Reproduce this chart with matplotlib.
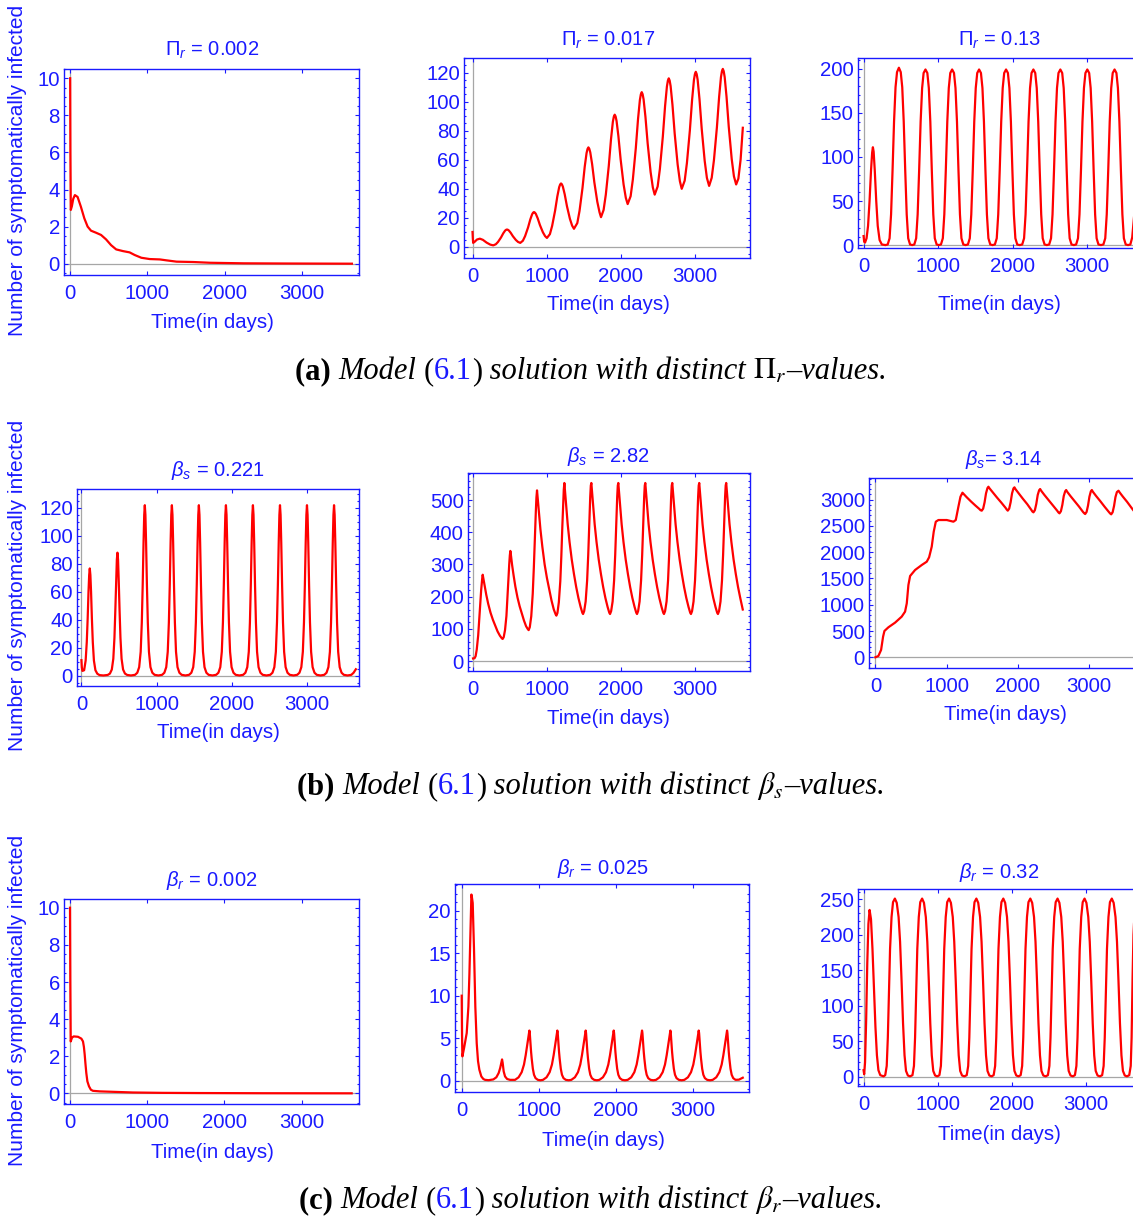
import matplotlib
matplotlib.use("Agg")
import matplotlib.pyplot as plt
from matplotlib.ticker import MultipleLocator, FixedLocator
from matplotlib.offsetbox import TextArea, HPacker, AnnotationBbox

W, H = 1133, 1216
plt.rcParams.update({
    "font.family": ["Liberation Sans", "DejaVu Sans"],
    "mathtext.fontset": "custom",
    "mathtext.rm": "Liberation Sans",
    "mathtext.it": "Liberation Sans:italic",
    "mathtext.bf": "Liberation Sans:bold",
})

BLUE = "#1a1aff"
RED = "#ff0000"
GRAY = "#a6a6a6"

# ---------------- symptomatically infected, days 0..3650 ----------------
# Pi_r = 0.002
T_PI1 = [0, 3, 8, 22, 40, 61, 96, 139, 183, 226, 270, 335, 400, 465, 530, 596, 683, 770, 835,
         922, 1030, 1161, 1248, 1378, 1596, 1813, 2248, 2800, 3650]
I_PI1 = [10, 6.0, 2.9, 3.1, 3.5, 3.7, 3.6, 3.07, 2.45, 2.0, 1.78, 1.67, 1.55, 1.31, 1.0, 0.77, 0.68,
         0.61, 0.47, 0.32, 0.25, 0.23, 0.18, 0.11, 0.09, 0.05, 0.02, 0.01, 0.0]

# Pi_r = 0.017
T_PI2 = [0, 4, 9, 30, 60, 99, 140, 190, 240, 280,
         315, 345, 385, 415, 440, 453, 465, 477, 490, 515, 545, 585, 615, 645,
         680, 710, 750, 780, 805, 818, 830, 842, 855, 880, 910, 950, 980, 1005,
         1045, 1075, 1115, 1145, 1170, 1183, 1195, 1207, 1220, 1245, 1275, 1315, 1345, 1370,
         1415, 1445, 1485, 1515, 1540, 1553, 1565, 1577, 1590, 1615, 1645, 1685, 1715, 1735,
         1770, 1800, 1840, 1870, 1895, 1908, 1920, 1932, 1945, 1970, 2000, 2040, 2070, 2095,
         2135, 2165, 2205, 2235, 2260, 2273, 2285, 2297, 2310, 2335, 2365, 2405, 2435, 2460,
         2500, 2530, 2570, 2600, 2625, 2638, 2650, 2662, 2675, 2700, 2730, 2770, 2800, 2825,
         2865, 2895, 2935, 2965, 2990, 3003, 3015, 3027, 3040, 3065, 3095, 3135, 3165, 3195,
         3230, 3260, 3300, 3330, 3355, 3368, 3380, 3392, 3405, 3430, 3460, 3500, 3530, 3560,
         3590, 3620, 3650]
I_PI2 = [10.3, 6, 2.8, 3.6, 5.1, 5.7, 4.9, 3.0, 1.6, 1.1,
         1.86, 3.5, 6.55, 9.38, 11.24, 11.78, 12, 11.82, 11.36, 9.79, 7.4, 4.82, 3.44, 2.8,
         4.28, 7.46, 13.4, 18.9, 22.5, 23.6, 24, 23.64, 22.75, 19.73, 15.1, 10.12, 7.45, 6.2,
         8.83, 14.45, 24.95, 34.7, 41.1, 42.95, 43.7, 43.08, 41.5, 36.2, 28.1, 19.36, 14.68, 12.5,
         16.42, 24.8, 40.5, 55.1, 64.6, 67.4, 68.5, 67.5, 65.1, 57.0, 44.5, 31.1, 23.86, 20.5,
         25.44, 36.0, 55.75, 74.1, 86.1, 89.6, 91, 89.8, 86.7, 76.2, 60.25, 43.0, 33.8, 29.5,
         34.9, 46.4, 68.0, 88.0, 101.1, 105.0, 106.5, 105.1, 101.6, 89.6, 71.25, 51.5, 40.9, 36,
         41.6, 53.6, 76, 96.8, 110.4, 114.4, 116, 114.5, 110.7, 97.8, 78, 56.7, 45.3, 40,
         45.6, 57.7, 80.25, 101.2, 114.9, 118.9, 120.5, 118.9, 115, 101.7, 81.25, 59.3, 47.5, 42,
         47.6, 59.7, 82.25, 103.2, 116.9, 120.9, 122.5, 120.9, 116.9, 103.4, 82.75, 60.5, 48.6, 43,
         47, 60, 82]

# Pi_r = 0.13
T_PI3 = [0, 8, 20, 40, 60, 80, 100, 115, 125, 135, 150, 170, 190, 215, 245, 293,
         324, 349, 369, 389, 409, 429, 449, 474, 499, 519, 539, 559, 579, 599, 624, 653,
         681, 706, 726, 746, 766, 786, 806, 831, 856, 876, 896, 916, 936, 956, 981, 1010,
         1039, 1064, 1084, 1104, 1124, 1144, 1164, 1189, 1214, 1234, 1254, 1274, 1294, 1314, 1339, 1370,
         1401, 1426, 1446, 1466, 1486, 1506, 1526, 1551, 1576, 1596, 1616, 1636, 1656, 1676, 1701, 1732,
         1763, 1788, 1808, 1828, 1848, 1868, 1888, 1913, 1938, 1958, 1978, 1998, 2018, 2038, 2063, 2096,
         2130, 2155, 2175, 2195, 2215, 2235, 2255, 2280, 2305, 2325, 2345, 2365, 2385, 2405, 2430, 2461,
         2492, 2517, 2537, 2557, 2577, 2597, 2617, 2642, 2667, 2687, 2707, 2727, 2747, 2767, 2792, 2823,
         2854, 2879, 2899, 2919, 2939, 2959, 2979, 3004, 3029, 3049, 3069, 3089, 3109, 3129, 3154, 3187,
         3220, 3245, 3265, 3285, 3305, 3325, 3345, 3370, 3395, 3415, 3435, 3455, 3475, 3495, 3520, 3551,
         3582, 3607, 3630, 3650]
I_PI3 = [10.5, 4, 3.2, 8, 22, 50, 85, 105, 111, 106, 85, 50, 22, 6, 1, 0.3,
         1, 8, 35, 85, 140, 179, 196, 201, 196, 179, 140, 85, 35, 8, 1, 0.3,
         1, 8, 35, 85, 140, 178, 195, 199, 195, 178, 140, 85, 35, 8, 1, 0.3,
         1, 8, 35, 85, 140, 178, 195, 199, 195, 178, 140, 85, 35, 8, 1, 0.3,
         1, 8, 35, 85, 140, 178, 195, 199, 195, 178, 140, 85, 35, 8, 1, 0.3,
         1, 8, 35, 85, 140, 178, 195, 199, 195, 178, 140, 85, 35, 8, 1, 0.3,
         1, 8, 35, 85, 140, 178, 195, 199, 195, 178, 140, 85, 35, 8, 1, 0.3,
         1, 8, 35, 85, 140, 178, 195, 199, 195, 178, 140, 85, 35, 8, 1, 0.3,
         1, 8, 35, 85, 140, 178, 195, 199, 195, 178, 140, 85, 35, 8, 1, 0.3,
         1, 8, 35, 85, 140, 178, 195, 199, 195, 178, 140, 85, 35, 8, 1, 0.3,
         1, 9, 30, 65]

# beta_s = 0.221
T_BS1 = [0, 5, 13, 36, 56, 71, 83, 94, 103, 111, 119, 128, 139, 151, 166, 186, 211, 241, 291,
         349, 379, 404, 424, 439, 451, 462, 471, 479, 487, 496, 507, 519, 534, 554, 579, 609, 659,
         713, 743, 768, 788, 803, 815, 826, 835, 843, 851, 860, 871, 883, 898, 918, 943, 973, 1023,
         1073, 1103, 1128, 1148, 1163, 1175, 1186, 1195, 1203, 1211, 1220, 1231, 1243, 1258, 1278, 1303, 1333, 1383,
         1432, 1462, 1487, 1507, 1522, 1534, 1545, 1554, 1562, 1570, 1579, 1590, 1602, 1617, 1637, 1662, 1692, 1742,
         1792, 1822, 1847, 1867, 1882, 1894, 1905, 1914, 1922, 1930, 1939, 1950, 1962, 1977, 1997, 2022, 2052, 2102,
         2151, 2181, 2206, 2226, 2241, 2253, 2264, 2273, 2281, 2289, 2298, 2309, 2321, 2336, 2356, 2381, 2411, 2461,
         2511, 2541, 2566, 2586, 2601, 2613, 2624, 2633, 2641, 2649, 2658, 2669, 2681, 2696, 2716, 2741, 2771, 2821,
         2870, 2900, 2925, 2945, 2960, 2972, 2983, 2992, 3000, 3008, 3017, 3028, 3040, 3055, 3075, 3100, 3130, 3180,
         3230, 3260, 3285, 3305, 3320, 3332, 3343, 3352, 3360, 3368, 3377, 3388, 3400, 3415, 3435, 3460, 3490, 3540,
         3590, 3620, 3650]
I_BS1 = [11, 6, 3.3, 3.8, 10.7, 24, 41, 60, 72, 76.7, 72, 60, 41, 24, 10.7, 3.8, 1.3, 0.3, 0.05,
         0.4, 1.4, 4.3, 12, 27, 47, 68, 83, 88, 83, 68, 47, 27, 12, 4.3, 1.4, 0.4, 0.05,
         0.5, 2, 6, 17, 38, 65, 95, 115, 122, 115, 95, 65, 38, 17, 6, 2, 0.5, 0.05,
         0.5, 2, 6, 17, 38, 65, 95, 115, 122, 115, 95, 65, 38, 17, 6, 2, 0.5, 0.05,
         0.5, 2, 6, 17, 38, 65, 95, 115, 122, 115, 95, 65, 38, 17, 6, 2, 0.5, 0.05,
         0.5, 2, 6, 17, 38, 65, 95, 115, 122, 115, 95, 65, 38, 17, 6, 2, 0.5, 0.05,
         0.5, 2, 6, 17, 38, 65, 95, 115, 122, 115, 95, 65, 38, 17, 6, 2, 0.5, 0.05,
         0.5, 2, 6, 17, 38, 65, 95, 115, 122, 115, 95, 65, 38, 17, 6, 2, 0.5, 0.05,
         0.5, 2, 6, 17, 38, 65, 95, 115, 122, 115, 95, 65, 38, 17, 6, 2, 0.5, 0.05,
         0.5, 2, 6, 17, 38, 65, 95, 115, 122, 115, 95, 65, 38, 17, 6, 2, 0.5, 0.05,
         0.5, 2, 4.5]

# beta_s = 2.82
T_BS2 = [0, 20, 35, 50, 70, 90, 110, 125, 131,
         142, 158, 179, 205, 237, 269, 301, 332, 364, 390, 401,
         415, 433, 452, 465, 479, 490, 498, 505,
         515, 529, 549, 573, 602, 631, 660, 689, 718, 743, 753,
         768, 788, 808, 823, 838, 850, 858, 866,
         876, 892, 912, 938, 969, 1000, 1031, 1062, 1093, 1118, 1128,
         1142, 1161, 1181, 1195, 1209, 1221, 1228, 1236,
         1246, 1261, 1281, 1306, 1336, 1366, 1396, 1426, 1456, 1479, 1489, 1504, 1524, 1544, 1559, 1574, 1586, 1594, 1601,
         1611, 1626, 1646, 1671, 1701, 1731, 1761, 1791, 1821, 1844, 1854, 1869, 1889, 1909, 1924, 1939, 1951, 1959, 1966,
         1976, 1991, 2011, 2036, 2066, 2096, 2126, 2156, 2186, 2209, 2219, 2234, 2254, 2274, 2289, 2304, 2316, 2324, 2331,
         2341, 2356, 2376, 2401, 2431, 2461, 2491, 2521, 2551, 2574, 2584, 2599, 2619, 2639, 2654, 2669, 2681, 2689, 2696,
         2706, 2721, 2741, 2766, 2796, 2826, 2856, 2886, 2916, 2939, 2949, 2964, 2984, 3004, 3019, 3034, 3046, 3054, 3061,
         3071, 3086, 3106, 3131, 3161, 3191, 3221, 3251, 3281, 3304, 3314, 3329, 3349, 3369, 3384, 3399, 3411, 3419, 3426,
         3436, 3451, 3471, 3496, 3526, 3556, 3586, 3616, 3650]
I_BS2 = [8, 8.5, 15, 35, 80, 150, 220, 258, 268,
         254, 232, 206, 178, 150, 128, 110, 92, 78.5, 70.5, 68.5,
         74, 96, 140, 192, 254, 301, 328, 342,
         325, 298, 266, 231, 197, 170, 148, 126, 108, 98.5, 96,
         105, 139, 209, 291, 391, 465, 508, 530,
         503, 460, 409, 355, 300, 258, 223, 188, 160, 145, 141,
         149, 182, 248, 326, 421, 491, 532, 553,
         525, 480, 425, 370, 315, 270, 230, 196, 168, 150, 146, 155, 185, 250, 330, 430, 510, 545, 553,
         525, 480, 425, 370, 315, 270, 230, 196, 168, 150, 146, 155, 185, 250, 330, 430, 510, 545, 553,
         525, 480, 425, 370, 315, 270, 230, 196, 168, 150, 146, 155, 185, 250, 330, 430, 510, 545, 553,
         525, 480, 425, 370, 315, 270, 230, 196, 168, 150, 146, 155, 185, 250, 330, 430, 510, 545, 553,
         525, 480, 425, 370, 315, 270, 230, 196, 168, 150, 146, 155, 185, 250, 330, 430, 510, 545, 553,
         525, 480, 425, 370, 315, 270, 230, 196, 168, 150, 146, 155, 185, 250, 330, 430, 510, 545, 553,
         525, 480, 425, 370, 315, 270, 230, 196, 160]

# beta_s = 3.14
T_BS3 = [0, 42, 80, 108, 127, 183, 277, 370, 417, 441, 464, 488, 558, 652, 722, 755, 792, 820, 849,
         886, 1003, 1097, 1130, 1167, 1196, 1224,
         1240, 1285, 1345, 1405, 1460, 1478, 1495, 1515, 1535, 1555, 1575, 1589,
         1605, 1650, 1710, 1770, 1830, 1845, 1861, 1881, 1901, 1921, 1941, 1955,
         1970, 2015, 2075, 2135, 2190, 2207, 2222, 2242, 2262, 2282, 2302, 2316,
         2331, 2376, 2436, 2496, 2556, 2573, 2588, 2608, 2628, 2648, 2668, 2682,
         2697, 2742, 2802, 2862, 2917, 2934, 2949, 2969, 2989, 3009, 3029, 3043,
         3058, 3103, 3163, 3223, 3283, 3300, 3315, 3335, 3355, 3375, 3395, 3418,
         3433, 3478, 3538, 3598, 3624, 3650]
I_BS3 = [0, 25, 140, 393, 501, 571, 660, 774, 869, 1027, 1376, 1548, 1662, 1757, 1820, 1903, 2106, 2391, 2581,
         2613, 2613, 2581, 2613, 2867, 3057, 3133,
         3110, 3045, 2965, 2890, 2825, 2800, 2791, 2830, 2950, 3120, 3220, 3247,
         3215, 3140, 3040, 2945, 2845, 2815, 2791, 2830, 2950, 3120, 3215, 3235,
         3200, 3120, 3015, 2915, 2810, 2775, 2759, 2800, 2920, 3090, 3180, 3203,
         3170, 3090, 2990, 2890, 2790, 2758, 2740, 2780, 2900, 3070, 3160, 3184,
         3150, 3070, 2970, 2870, 2770, 2744, 2727, 2767, 2887, 3057, 3160, 3184,
         3150, 3070, 2970, 2865, 2765, 2738, 2721, 2760, 2880, 3050, 3145, 3171,
         3140, 3060, 2960, 2850, 2803, 2760]

# beta_r = 0.002
T_BR1 = [0, 4, 9, 25, 47, 103, 147, 168, 180, 190, 200, 211, 225, 246, 270, 297, 384, 600, 815,
         1200, 1677, 2500, 3650]
I_BR1 = [10, 6, 2.8, 3.0, 3.07, 3.05, 2.95, 2.8, 2.5, 2.1, 1.6, 1.1, 0.65, 0.38, 0.2, 0.14, 0.11,
         0.08, 0.05, 0.03, 0.02, 0.01, 0.005]

# beta_r = 0.025
T_BR2 = [0, 4, 9, 30, 65, 87, 100, 108, 118, 126, 134, 143, 160, 177, 195, 212, 229, 255, 281, 303,
         350, 411, 450, 480, 500, 515, 524, 532, 545, 563, 590, 628,
         693, 739, 779, 809, 831, 849, 864, 874, 879, 884, 891, 901, 909, 924, 939, 959, 989, 1022,
         1056, 1102, 1142, 1172, 1194, 1212, 1227, 1237, 1242, 1247, 1254, 1264, 1272, 1287, 1302, 1322, 1352, 1390,
         1424, 1470, 1510, 1540, 1562, 1580, 1595, 1605, 1610, 1615, 1622, 1632, 1640, 1655, 1670, 1690, 1720, 1755,
         1788, 1834, 1874, 1904, 1926, 1944, 1959, 1969, 1974, 1979, 1986, 1996, 2004, 2019, 2034, 2054, 2084, 2120,
         2156, 2202, 2242, 2272, 2294, 2312, 2327, 2337, 2342, 2347, 2354, 2364, 2372, 2387, 2402, 2422, 2452, 2488,
         2524, 2570, 2610, 2640, 2662, 2680, 2695, 2705, 2710, 2715, 2722, 2732, 2740, 2755, 2770, 2790, 2820, 2856,
         2892, 2938, 2978, 3008, 3030, 3048, 3063, 3073, 3078, 3083, 3090, 3100, 3108, 3123, 3138, 3158, 3188, 3225,
         3260, 3306, 3346, 3376, 3398, 3416, 3431, 3441, 3446, 3451, 3458, 3468, 3476, 3491, 3506, 3526, 3556,
         3600, 3650]
I_BR2 = [10, 5.5, 2.86, 3.8, 5.6, 8.7, 12.5, 15.4, 19.5, 21.9, 21.5, 20.9, 15.4, 8.7, 4.4, 2.3, 1.3, 0.5, 0.2, 0.1,
         0.06, 0.15, 0.4, 0.9, 1.5, 2.1, 2.5, 2.1, 1.1, 0.5, 0.2, 0.1,
         0.1, 0.4, 1.0, 1.9, 3.0, 4.1, 5.1, 5.7, 5.9, 5.6, 4.7, 3.4, 2.6, 1.4, 0.7, 0.3, 0.1, 0.05,
         0.1, 0.4, 1.0, 1.9, 3.0, 4.1, 5.1, 5.7, 5.9, 5.6, 4.7, 3.4, 2.6, 1.4, 0.7, 0.3, 0.1, 0.05,
         0.1, 0.4, 1.0, 1.9, 3.0, 4.1, 5.1, 5.7, 5.9, 5.6, 4.7, 3.4, 2.6, 1.4, 0.7, 0.3, 0.1, 0.05,
         0.1, 0.4, 1.0, 1.9, 3.0, 4.1, 5.1, 5.7, 5.9, 5.6, 4.7, 3.4, 2.6, 1.4, 0.7, 0.3, 0.1, 0.05,
         0.1, 0.4, 1.0, 1.9, 3.0, 4.1, 5.1, 5.7, 5.9, 5.6, 4.7, 3.4, 2.6, 1.4, 0.7, 0.3, 0.1, 0.05,
         0.1, 0.4, 1.0, 1.9, 3.0, 4.1, 5.1, 5.7, 5.9, 5.6, 4.7, 3.4, 2.6, 1.4, 0.7, 0.3, 0.1, 0.05,
         0.1, 0.4, 1.0, 1.9, 3.0, 4.1, 5.1, 5.7, 5.9, 5.6, 4.7, 3.4, 2.6, 1.4, 0.7, 0.3, 0.1, 0.05,
         0.1, 0.4, 1.0, 1.9, 3.0, 4.1, 5.1, 5.7, 5.9, 5.6, 4.7, 3.4, 2.6, 1.4, 0.7, 0.3, 0.1,
         0.12, 0.35]

# beta_r = 0.32
T_BR3 = [0, 8, 20, 35, 50, 65, 81, 100, 120, 140, 160, 180, 200, 225, 269,
         292, 312, 327, 342, 357, 377, 397, 422, 447, 472, 492, 512, 532, 552, 572, 597, 627,
         659, 679, 694, 709, 724, 744, 764, 789, 814, 839, 859, 879, 899, 919, 939, 964, 994,
         1022, 1042, 1057, 1072, 1087, 1107, 1127, 1152, 1177, 1202, 1222, 1242, 1262, 1282, 1302, 1327, 1359,
         1390, 1410, 1425, 1440, 1455, 1475, 1495, 1520, 1545, 1570, 1590, 1610, 1630, 1650, 1670, 1695, 1725,
         1753, 1773, 1788, 1803, 1818, 1838, 1858, 1883, 1908, 1933, 1953, 1973, 1993, 2013, 2033, 2058, 2089,
         2117, 2137, 2152, 2167, 2182, 2202, 2222, 2247, 2272, 2297, 2317, 2337, 2357, 2377, 2397, 2422, 2454,
         2484, 2504, 2519, 2534, 2549, 2569, 2589, 2614, 2639, 2664, 2684, 2704, 2724, 2744, 2764, 2789, 2820,
         2848, 2868, 2883, 2898, 2913, 2933, 2953, 2978, 3003, 3028, 3048, 3068, 3088, 3108, 3128, 3153, 3185,
         3215, 3235, 3250, 3265, 3280, 3300, 3320, 3345, 3370, 3395, 3415, 3435, 3455, 3475, 3495, 3520, 3550,
         3580, 3600, 3612, 3625, 3637, 3650]
I_BR3 = [9, 3.3, 20, 80, 160, 215, 235, 222, 180, 125, 70, 30, 9, 2, 0.3,
         2, 15, 55, 120, 180, 225, 246, 251, 245, 225, 190, 135, 75, 30, 8, 1.5, 0.3,
         2, 15, 55, 120, 180, 225, 246, 251, 245, 225, 190, 135, 75, 30, 8, 1.5, 0.3,
         2, 15, 55, 120, 180, 225, 246, 251, 245, 225, 190, 135, 75, 30, 8, 1.5, 0.3,
         2, 15, 55, 120, 180, 225, 246, 251, 245, 225, 190, 135, 75, 30, 8, 1.5, 0.3,
         2, 15, 55, 120, 180, 225, 246, 251, 245, 225, 190, 135, 75, 30, 8, 1.5, 0.3,
         2, 15, 55, 120, 180, 225, 246, 251, 245, 225, 190, 135, 75, 30, 8, 1.5, 0.3,
         2, 15, 55, 120, 180, 225, 246, 251, 245, 225, 190, 135, 75, 30, 8, 1.5, 0.3,
         2, 15, 55, 120, 180, 225, 246, 251, 245, 225, 190, 135, 75, 30, 8, 1.5, 0.3,
         2, 15, 55, 120, 180, 225, 246, 251, 245, 225, 190, 135, 75, 30, 8, 1.5, 0.3,
         2, 15, 55, 140, 200, 228]

TITLES = [[r"$\Pi_r$ = 0.002", r"$\Pi_r$ = 0.017", r"$\Pi_r$ = 0.13"],
          [r"$\beta_s$ = 0.221", r"$\beta_s$ = 2.82", r"$\beta_s$= 3.14"],
          [r"$\beta_r$ = 0.002", r"$\beta_r$ = 0.025", r"$\beta_r$ = 0.32"]]
SERIES = [[(T_PI1, I_PI1), (T_PI2, I_PI2), (T_PI3, I_PI3)],
          [(T_BS1, I_BS1), (T_BS2, I_BS2), (T_BS3, I_BS3)],
          [(T_BR1, I_BR1), (T_BR2, I_BR2), (T_BR3, I_BR3)]]
X_TICKS = [0, 1000, 2000, 3000]
X_LABEL = "Time(in days)"
Y_LABEL = "Number of symptomatically infected"
CAPTION_SYMBOLS = [r"$\Pi_r$", r"$\beta_s$", r"$\beta_r$"]
CAPTION_TAGS = ["(a)", "(b)", "(c)"]

# ---------------- layout (pixels) ----------------
LAYOUT = [
    [dict(box=(64, 69, 359, 275), xlim=(-80, 3742), ylim=(-0.61, 10.5), ystep=(2, 0.5),
          title=(212, 50), xlab=(212, 322)),
     dict(box=(464, 58, 750, 258), xlim=(-115, 3747), ylim=(-7.6, 130), ystep=(20, 5),
          title=(608, 40), xlab=(608, 305)),
     dict(box=(858, 58, 1141, 248), xlim=(-75, 3725), ylim=(-3.0, 212), ystep=(50, 10),
          title=(1000, 40), xlab=(999, 305))],
    [dict(box=(77, 489, 359, 686), xlim=(-59, 3692), ylim=(-7.5, 133.6), ystep=(20, 5),
          title=(218, 470), xlab=(218, 733)),
     dict(box=(468, 473, 750, 671), xlim=(-68, 3748), ylim=(-31, 584), ystep=(100, 20),
          title=(608, 456), xlab=(608, 719)),
     dict(box=(869, 478, 1140, 668), xlim=(-90, 3720), ylim=(-204, 3413), ystep=(500, 100),
          title=(1004, 459), xlab=(1005, 715))],
    [dict(box=(64, 899, 359, 1104), xlim=(-78, 3745), ylim=(-0.57, 10.47), ystep=(2, 0.5),
          title=(212, 881), xlab=(212, 1152)),
     dict(box=(455, 884, 749, 1092), xlim=(-87, 3731), ylim=(-1.33, 23.14), ystep=(5, 1),
          title=(603, 869), xlab=(603, 1140)),
     dict(box=(858, 889, 1140, 1086), xlim=(-75, 3725), ylim=(-13.3, 264.5), ystep=(50, 10),
          title=(999, 872), xlab=(999, 1134))],
]
YLABEL_POS = [(18, 170), (18, 585), (18, 1000)]
CAPTION_POS = [(591, 371), (591, 786), (591, 1200)]

fig = plt.figure(figsize=(W / 100, H / 100), dpi=100)
fig.patch.set_facecolor("white")


def fx(x):
    return x / W


def fy(y):
    return 1 - y / H


for r in range(3):
    for c in range(3):
        spec = LAYOUT[r][c]
        l, t, rr, b = spec["box"]
        ax = fig.add_axes([fx(l), fy(b), (rr - l) / W, (b - t) / H])
        ax.set_xlim(*spec["xlim"])
        ax.set_ylim(*spec["ylim"])
        ax.axhline(0, color=GRAY, lw=0.9, zorder=1)
        ax.axvline(0, color=GRAY, lw=0.9, zorder=1)
        tt, yy = SERIES[r][c]
        ax.plot(tt, yy, color=RED, lw=1.6, zorder=3, solid_joinstyle="round")
        ax.xaxis.set_major_locator(FixedLocator(X_TICKS))
        ax.yaxis.set_major_locator(MultipleLocator(spec["ystep"][0]))
        ax.yaxis.set_minor_locator(MultipleLocator(spec["ystep"][1]))
        ax.tick_params(which="both", direction="in", colors=BLUE, top=True, right=True,
                       labelsize=14.7, width=0.8)
        ax.tick_params(which="major", length=3)
        ax.tick_params(axis="y", which="major", pad=3)
        ax.tick_params(axis="x", which="major", pad=6.5)
        ax.tick_params(which="minor", length=1.6)
        ax.tick_params(axis="x", which="minor", bottom=False, top=False)
        for s in ax.spines.values():
            s.set_color(BLUE)
            s.set_linewidth(1.0)
        fig.text(fx(spec["title"][0]), fy(spec["title"][1]), TITLES[r][c], ha="center",
                 va="center", color=BLUE, fontsize=14.5)
        fig.text(fx(spec["xlab"][0]), fy(spec["xlab"][1]), X_LABEL, ha="center",
                 va="center", color=BLUE, fontsize=14.7)

    fig.text(fx(YLABEL_POS[r][0]), fy(YLABEL_POS[r][1]), Y_LABEL, rotation=90, ha="center",
             va="center", color=BLUE, fontsize=15)

    # caption line below each row
    serif = ["Liberation Serif", "DejaVu Serif"]
    size = 22
    parts = [
        TextArea(CAPTION_TAGS[r] + " ", textprops=dict(family=serif, weight="bold", size=size, color="black")),
        TextArea("Model ", textprops=dict(family=serif, style="italic", size=size, color="black")),
        TextArea("(", textprops=dict(family=serif, size=size, color="black")),
        TextArea("6.1", textprops=dict(family=serif, size=size, color="#1a1aff")),
        TextArea(")", textprops=dict(family=serif, size=size, color="black")),
        TextArea(" solution with distinct ", textprops=dict(family=serif, style="italic", size=size, color="black")),
        TextArea(CAPTION_SYMBOLS[r], textprops=dict(size=size, color="black", math_fontfamily="stix")),
        TextArea("\u2013values.", textprops=dict(family=serif, style="italic", size=size, color="black")),
    ]
    box = HPacker(children=parts, align="baseline", pad=0, sep=0)
    ab = AnnotationBbox(box, (fx(CAPTION_POS[r][0]), fy(CAPTION_POS[r][1])), xycoords="figure fraction",
                        frameon=False, box_alignment=(0.5, 0.5), pad=0)
    fig.add_artist(ab)

fig.savefig("out.png", dpi=100, facecolor="white")
